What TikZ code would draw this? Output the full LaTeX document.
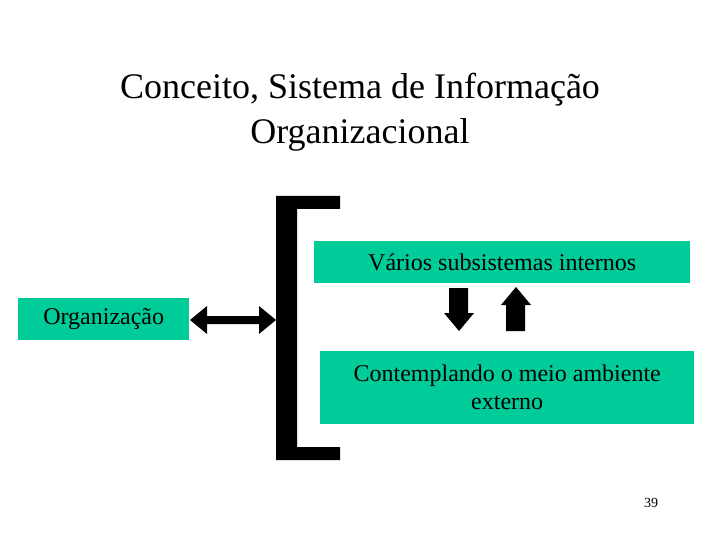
\documentclass[tikz,border=0pt]{standalone}
\usepackage{fontspec}
\setmainfont{Liberation Serif}
\begin{document}
\begin{tikzpicture}[x=1pt,y=-1pt,
  gbox/.style={fill=teal0,inner sep=0pt,font=\fontsize{24}{28}\selectfont,align=center,anchor=north west},
  blk/.style={fill=black,draw=none}]
\definecolor{teal0}{HTML}{00CC99}
\useasboundingbox (0,0) rectangle (720,540);
\node[font=\fontsize{36}{45}\selectfont,align=center] (title) at (360,112) {Conceito, Sistema de Informação\\Organizacional};
\node[gbox,minimum width=376pt,minimum height=42pt] (b1) at (314,241) {Vários subsistemas internos};
\node[gbox,minimum width=374pt,minimum height=73pt] (b2) at (320,351) {Contemplando o meio ambiente\\externo};
\node[gbox,minimum width=171pt,minimum height=42pt] (org) at (18,298) {Organização};
% bracket
\fill[blk] (276,196) -- (340,196) -- (340,209) -- (297,209) -- (297,447) -- (340,447) -- (340,460) -- (276,460) -- cycle;
% double arrow
\coordinate (dl) at (190,320); \coordinate (dr) at (276,320);
\fill[blk] (dl) -- ++(17,-14) -- ++(0,10) -- ++(52,0) -- ++(0,-10) -- (dr) -- ++(-17,14) -- ++(0,-10) -- ++(-52,0) -- ++(0,10) -- cycle;
% down arrow
\fill[blk] (449,288) -- (468,288) -- (468,313) -- (474,313) -- (459,331) -- (444,313) -- (449,313) -- cycle;
% up arrow
\fill[blk] (506,331) -- (525,331) -- (525,305) -- (531,305) -- (516,287) -- (501,305) -- (506,305) -- cycle;
\node[font=\fontsize{14}{16}\selectfont] (pg) at (651,503) {39};
\end{tikzpicture}
\end{document}
